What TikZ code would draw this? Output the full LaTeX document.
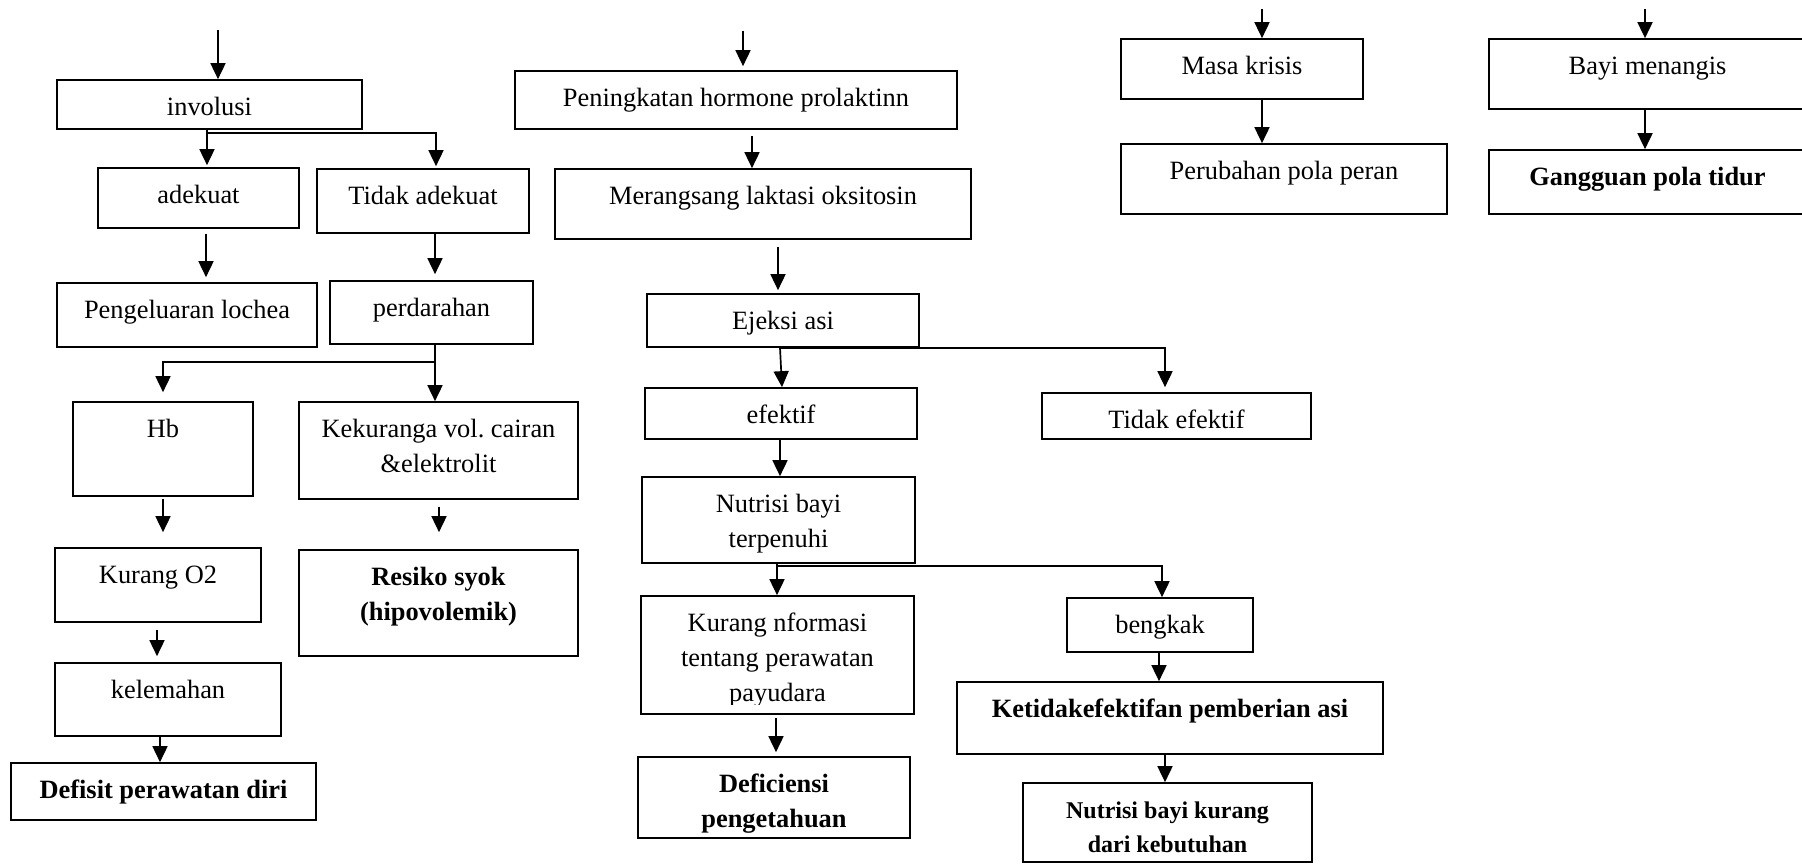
\documentclass[tikz,border=0pt]{standalone}
\usepackage{fontspec}
\setmainfont{Liberation Serif}
\frenchspacing
\usetikzlibrary{arrows.meta,fit,calc}
\newcommand\mkbox[5]{\node[box, fit={(#2,#3) (#4,#5)}] (#1) {};}
\newcommand\mkline[4]{\node[#3] (#1-#2) at ($(#1.north)+(0,{36+35*#2})$) {#4};}
\begin{document}
\begin{tikzpicture}[x=0.5pt,y=-0.5pt,
  box/.style={draw, line width=0.85pt, inner sep=0pt, rectangle},
  txt/.style={anchor=base, inner sep=0pt, font=\fontsize{13.2}{15}\selectfont},
  btxt/.style={anchor=base, inner sep=0pt, font=\fontsize{13.2}{15}\selectfont\bfseries},
  stxt/.style={anchor=base, inner sep=0pt, font=\fontsize{12}{14}\selectfont\bfseries},
  arr/.style={-{Triangle[length=8pt,width=7.5pt]}, line width=0.85pt}]
\fill[white] (0,0) rectangle (1802,864);
\useasboundingbox (0,0) rectangle (1802,864);

% ---------- boxes ----------
\mkbox{inv}{57}{80}{362}{129}
\mkbox{adek}{98}{168}{299}{228}
\mkbox{tadek}{317}{169}{529}{233}
\mkbox{loch}{57}{283}{317}{347}
\mkbox{perd}{330}{281}{533}{344}
\mkbox{hb}{73}{402}{253}{496}
\mkbox{kek}{299}{402}{578}{499}
\mkbox{ko2}{55}{548}{261}{622}
\mkbox{res}{299}{550}{578}{656}
\mkbox{lem}{55}{663}{281}{736}
\mkbox{def}{11}{763}{316}{820}
\mkbox{pen}{515}{71}{957}{129}
\mkbox{mer}{555}{169}{971}{239}
\mkbox{ej}{647}{294}{919}{347}
\mkbox{ef}{645}{388}{917}{439}
\mkbox{tef}{1042}{393}{1311}{439}
\mkbox{nut}{642}{477}{915}{563}
\mkbox{kinf}{641}{596}{914}{714}
\mkbox{beng}{1067}{598}{1253}{652}
\mkbox{ketid}{957}{682}{1383}{754}
\mkbox{defi}{638}{757}{910}{838}
\mkbox{nkur}{1023}{783}{1312}{862}
\mkbox{masa}{1121}{39}{1363}{99}
\mkbox{peru}{1121}{144}{1447}{214}
\mkbox{bayi}{1489}{39}{1806}{109}
\mkbox{gang}{1489}{150}{1806}{214}

% ---------- texts ----------
\mkline{inv}{0}{txt}{involusi}
\mkline{adek}{0}{txt}{adekuat}
\mkline{tadek}{0}{txt}{Tidak adekuat}
\mkline{loch}{0}{txt}{Pengeluaran lochea}
\mkline{perd}{0}{txt}{perdarahan}
\mkline{hb}{0}{txt}{Hb}
\mkline{kek}{0}{txt}{Kekuranga vol. cairan}
\mkline{kek}{1}{txt}{\&elektrolit}
\mkline{ko2}{0}{txt}{Kurang O2}
\mkline{res}{0}{btxt}{Resiko syok}
\mkline{res}{1}{btxt}{(hipovolemik)}
\mkline{lem}{0}{txt}{kelemahan}
\mkline{def}{0}{btxt}{Defisit perawatan diri}
\mkline{pen}{0}{txt}{Peningkatan hormone prolaktinn}
\mkline{mer}{0}{txt}{Merangsang laktasi oksitosin}
\mkline{ej}{0}{txt}{Ejeksi asi}
\mkline{ef}{0}{txt}{efektif}
\mkline{tef}{0}{txt}{Tidak efektif}
\mkline{nut}{0}{txt}{Nutrisi bayi}
\mkline{nut}{1}{txt}{terpenuhi}
\mkline{kinf}{0}{txt}{Kurang nformasi}
\mkline{kinf}{1}{txt}{tentang perawatan}
\begin{scope}
\clip (641,596) rectangle (914,704);
\mkline{kinf}{2}{txt}{payudara}
\end{scope}
\mkline{beng}{0}{txt}{bengkak}
\mkline{ketid}{0}{btxt}{Ketidakefektifan pemberian asi}
\mkline{defi}{0}{btxt}{Deficiensi}
\mkline{defi}{1}{btxt}{pengetahuan}
\node[stxt] (nkur-0) at ($(nkur.north)+(0,36)$) {Nutrisi bayi kurang};
\node[stxt] (nkur-1) at ($(nkur.north)+(0,70)$) {dari kebutuhan};
\mkline{masa}{0}{txt}{Masa krisis}
\mkline{peru}{0}{txt}{Perubahan pola peran}
\mkline{bayi}{0}{txt}{Bayi menangis}
\mkline{gang}{0}{btxt}{Gangguan pola tidur}

% ---------- connectors ----------
\coordinate (s1) at (218,30);
\draw[arr] (s1) -- (inv.north -| s1);
\draw[arr, shorten >=1pt] (inv.south -| 207,0) -- (adek.north -| 207,0);
\draw[arr, shorten >=1pt] (inv.south -| 207,0) -- ++(0,3) -| (tadek.north -| 436,0);
\draw[arr, shorten <=2.5pt, shorten >=2.5pt] (adek.south -| 206,0) -- (loch.north -| 206,0);
\draw[arr, shorten >=3pt] (tadek.south -| 435,0) -- (perd.north -| 435,0);
\draw[arr] (perd.south -| 435,0) -- (kek.north -| 435,0);
\draw[arr, shorten >=4.5pt] (perd.south -| 435,0) -- ++(0,17) -| (hb.north -| 163,0);
\draw[arr, shorten <=1pt, shorten >=7.5pt] (hb.south -| 163,0) -- (ko2.north -| 163,0);
\draw[arr, shorten <=3.5pt, shorten >=8.5pt] (kek.south -| 439,0) -- (res.north -| 439,0);
\draw[arr, shorten <=3.5pt, shorten >=3pt] (ko2.south -| 157,0) -- (lem.north -| 157,0);
\draw[arr] (lem.south -| 160,0) -- (def.north -| 160,0);

\coordinate (s2) at (743,31);
\draw[arr, shorten >=2pt] (s2) -- (pen.north -| s2);
\draw[arr, shorten <=3pt] (pen.south -| 752,0) -- (mer.north -| 752,0);
\draw[arr, shorten <=3.5pt, shorten >=1.5pt] (mer.south -| 778,0) -- (ej.north -| 778,0);
\draw[arr] (ej.south -| 780,0) -- (ef.north -| 782,0);
\draw[arr, shorten >=2.5pt] (ej.south -| 780,0) -| (tef.north -| 1165,0);
\draw[arr] (ef.south -| 780,0) -- (nut.north -| 780,0);
\draw[arr] (nut.south -| 777,0) -- (kinf.north -| 777,0);
\draw[arr] (nut.south -| 777,0) -- ++(0,2) -| (beng.north -| 1162,0);
\draw[arr, shorten <=1.5pt, shorten >=2pt] (kinf.south -| 776,0) -- (defi.north -| 776,0);
\draw[arr] (beng.south -| 1159,0) -- (ketid.north -| 1159,0);
\draw[arr] (ketid.south -| 1165,0) -- (nkur.north -| 1165,0);

\coordinate (s3) at (1262,9);
\draw[arr] (s3) -- (masa.north -| s3);
\draw[arr] (masa.south -| 1262,0) -- (peru.north -| 1262,0);
\coordinate (s4) at (1645,9);
\draw[arr] (s4) -- (bayi.north -| s4);
\draw[arr] (bayi.south -| 1645,0) -- (gang.north -| 1645,0);
\end{tikzpicture}
\end{document}
